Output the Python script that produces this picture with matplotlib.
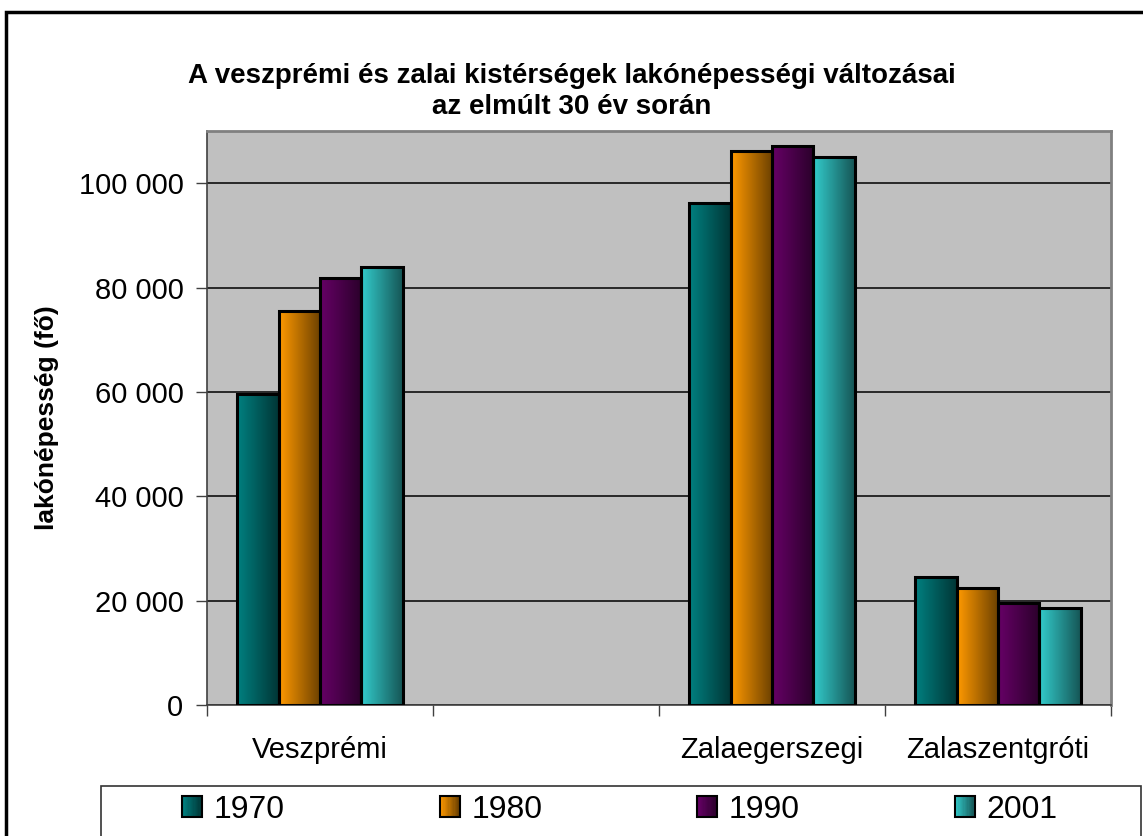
import numpy as np
import matplotlib
matplotlib.use("Agg")
import matplotlib.pyplot as plt
from matplotlib.colors import LinearSegmentedColormap, to_rgb
from matplotlib.patches import Rectangle
from matplotlib.legend_handler import HandlerBase

plt.rcParams["font.family"] = ["Liberation Sans", "DejaVu Sans"]

# data (inhabitants); the second category is blank in the source
CATEGORIES = ["Veszprémi", "", "Zalaegerszegi", "Zalaszentgróti"]
YEARS = ["1970", "1980", "1990", "2001"]
POP_1970 = [59600, np.nan, 96200, 24500]
POP_1980 = [75600, np.nan, 106100, 22400]
POP_1990 = [81800, np.nan, 107100, 19500]
POP_2001 = [84000, np.nan, 105100, 18600]
COLORS = ["#008080", "#FF9900", "#660066", "#33CCCC"]

W, H = 1143, 836


def shade(c, f=0.42):
    r, g, b = to_rgb(c)
    return (r * f, g * f, b * f)


class GradientHandler(HandlerBase):
    def __init__(self, color):
        super().__init__()
        self.color = color

    def create_artists(self, legend, orig_handle, xdescent, ydescent,
                       width, height, fontsize, trans):
        cmap = LinearSegmentedColormap.from_list("g", [self.color, shade(self.color)])
        n = 16
        out = []
        for i in range(n):
            r = Rectangle((-xdescent + width * i / n, -ydescent), width / n + 0.3, height,
                          facecolor=cmap(i / (n - 1)), edgecolor="none", transform=trans)
            out.append(r)
        out.append(Rectangle((-xdescent, -ydescent), width, height, facecolor="none",
                             edgecolor="black", linewidth=1.5, transform=trans))
        return out


def main():
    series = [POP_1970, POP_1980, POP_1990, POP_2001]
    fig = plt.figure(figsize=(W / 100, H / 100), dpi=100)

    # outer chart frame
    fig.patches.append(Rectangle((6 / W, -0.05), (W + 10) / W, 1 - 12 / H + 0.05,
                                 transform=fig.transFigure, fill=False,
                                 edgecolor="black", linewidth=2.5))

    ax = fig.add_axes([207 / W, 1 - 705 / H, 904 / W, 574 / H])
    ax.set_facecolor("#C0C0C0")

    x = np.arange(len(CATEGORIES))
    bw = 0.1826
    for i, (vals, col) in enumerate(zip(series, COLORS)):
        offs = (i - 1.5) * bw
        bars = ax.bar(x + offs, vals, width=bw, facecolor="none",
                      edgecolor="black", linewidth=2.2, zorder=3)
        cmap = LinearSegmentedColormap.from_list("g", [col, shade(col)])
        grad = np.linspace(0, 1, 64).reshape(1, -1)
        for p in bars.patches:
            h = p.get_height()
            if not np.isfinite(h):
                continue
            ax.imshow(grad, cmap=cmap, aspect="auto", zorder=2,
                      extent=[p.get_x(), p.get_x() + p.get_width(), 0, h])

    ax.set_xlim(-0.5, len(CATEGORIES) - 0.5)
    ax.set_ylim(0, 110000)
    ax.set_yticks(np.arange(0, 110001, 20000))
    ax.set_yticklabels([f"{v:,}".replace(",", " ") for v in range(0, 110001, 20000)],
                       fontsize=21)
    ax.yaxis.grid(True, color="black", linewidth=1.1)
    ax.set_axisbelow(True)

    ax.set_xticks(np.arange(-0.5, len(CATEGORIES)))
    ax.set_xticklabels([])
    ax.set_xticks(x, minor=True)
    ax.set_xticklabels(CATEGORIES, minor=True, fontsize=21)
    ax.tick_params(axis="x", which="major", length=8, width=1, color="#404040")
    ax.tick_params(axis="x", which="minor", length=0, pad=22)
    ax.tick_params(axis="y", length=8, width=1, pad=9, color="#404040")

    for s in ["top", "right"]:
        ax.spines[s].set_color("#808080")
        ax.spines[s].set_linewidth(2)
    for s in ["left", "bottom"]:
        ax.spines[s].set_color("#404040")
        ax.spines[s].set_linewidth(1.2)

    ax.set_ylabel("lakónépesség (fő)", fontsize=19, fontweight="bold", labelpad=14)

    fig.text(0.5, 1 - 76 / H, "A veszprémi és zalai kistérségek lakónépességi változásai",
             ha="center", va="center", fontsize=20, fontweight="bold")
    fig.text(0.5, 1 - 107 / H, "az elmúlt 30 év során",
             ha="center", va="center", fontsize=20, fontweight="bold")

    # legend box (extends past the bottom edge as in the source)
    fig.patches.append(Rectangle((101 / W, -0.05), (1141 - 101) / W, 1 - 786 / H + 0.05,
                                 transform=fig.transFigure, fill=False,
                                 edgecolor="#333333", linewidth=1.2))
    proxies = [Rectangle((0, 0), 1, 1) for _ in YEARS]
    fig.legend(proxies, YEARS, loc="center left", ncol=4,
               bbox_to_anchor=(182 / W, 1 - 810 / H), frameon=False,
               fontsize=23, handlelength=0.63, handleheight=0.63,
               handletextpad=0.37, columnspacing=4.84, borderpad=0, borderaxespad=0,
               handler_map={p: GradientHandler(c) for p, c in zip(proxies, COLORS)})

    fig.savefig("out.png", dpi=100)


if __name__ == "__main__":
    main()
